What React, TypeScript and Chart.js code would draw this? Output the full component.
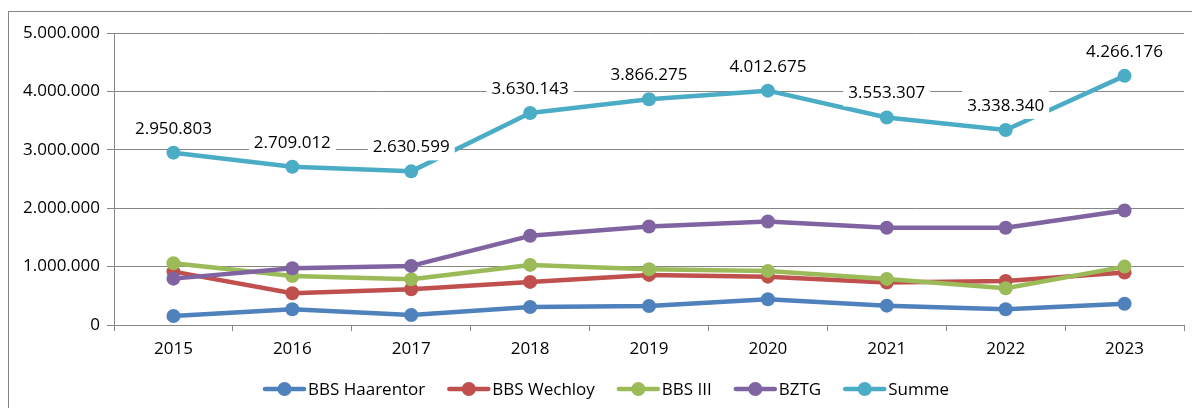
import React, { useEffect, useRef } from "react";
import { Chart, registerables } from "chart.js";

Chart.register(...registerables);

const years = ["2015", "2016", "2017", "2018", "2019", "2020", "2021", "2022", "2023"];
const haarentor = [154000, 269000, 172000, 309000, 326000, 440000, 331000, 269000, 365000];
const wechloy = [914000, 544000, 612000, 738000, 858000, 828000, 726000, 755000, 897000];
const bbsIII = [1058000, 840000, 784000, 1029000, 955000, 926000, 789000, 630000, 1000000];
const bztg = [794000, 972000, 1012000, 1527000, 1686000, 1772000, 1664000, 1664000, 1960000];
const summe = [2950803, 2709012, 2630599, 3630143, 3866275, 4012675, 3553307, 3338340, 4266176];

const seriesNames = ["BBS Haarentor", "BBS Wechloy", "BBS III", "BZTG", "Summe"];
const seriesColors = ["#4F81BD", "#C0504D", "#9BBB59", "#8064A2", "#4BACC6"];
const seriesValues = [haarentor, wechloy, bbsIII, bztg, summe];

const yMin = 0;
const yMax = 5000000;
const yStep = 1000000;

const FONT = "'Open Sans', sans-serif";
const FONT_SIZE = 17;
const GRID = "#868686";

const fmt = (v: number) => String(Math.round(v)).replace(/\B(?=(\d{3})+(?!\d))/g, ".");

const framePlugin = {
  id: "frame",
  beforeDraw(chart: any) {
    const ctx = chart.ctx;
    ctx.save();
    ctx.fillStyle = "#ffffff";
    ctx.fillRect(0, 0, chart.width, chart.height);
    ctx.strokeStyle = GRID;
    ctx.lineWidth = 1;
    ctx.strokeRect(8.5, 11.5, 1400, 600);
    ctx.restore();
  },
};

const sumLabelPlugin = {
  id: "sumLabels",
  afterDatasetsDraw(chart: any) {
    const idx = seriesNames.length - 1;
    const meta = chart.getDatasetMeta(idx);
    const ctx = chart.ctx;
    ctx.save();
    ctx.font = `${FONT_SIZE}px ${FONT}`;
    ctx.textAlign = "center";
    ctx.textBaseline = "middle";
    meta.data.forEach((pt: any, i: number) => {
      const text = fmt(summe[i]);
      const w = ctx.measureText(text).width;
      const x = pt.x;
      const y = pt.y - 25;
      ctx.fillStyle = "#ffffff";
      ctx.fillRect(x - w / 2 - 5, y - 14, w + 10, 28);
      ctx.fillStyle = "#000000";
      ctx.fillText(text, x, y + 1);
    });
    ctx.restore();
  },
};

const legendPlugin = {
  id: "customLegend",
  afterDraw(chart: any) {
    const ctx = chart.ctx;
    ctx.save();
    ctx.font = `${FONT_SIZE}px ${FONT}`;
    ctx.textBaseline = "middle";
    ctx.textAlign = "left";
    const markerW = 43;
    const gapText = 2;
    const gapItem = 22;
    const widths = seriesNames.map((n) => ctx.measureText(n).width);
    const total =
      widths.reduce((a, w) => a + markerW + gapText + w, 0) + gapItem * (seriesNames.length - 1);
    let x = 606 - total / 2;
    const cy = 389;
    seriesNames.forEach((name, i) => {
      ctx.strokeStyle = seriesColors[i];
      ctx.fillStyle = seriesColors[i];
      ctx.lineWidth = 4.5;
      ctx.lineCap = "round";
      ctx.beginPath();
      ctx.moveTo(x + 2, cy);
      ctx.lineTo(x + markerW - 2, cy);
      ctx.stroke();
      ctx.beginPath();
      ctx.arc(x + markerW / 2, cy, 7, 0, Math.PI * 2);
      ctx.fill();
      ctx.fillStyle = "#000000";
      ctx.fillText(name, x + markerW + gapText, cy + 1);
      x += markerW + gapText + widths[i] + gapItem;
    });
    ctx.restore();
  },
};

export default function App() {
  const ref = useRef<HTMLCanvasElement | null>(null);

  useEffect(() => {
    if (!ref.current) return;
    const chart = new Chart(ref.current, {
      type: "line",
      data: {
        labels: years,
        datasets: seriesNames.map((name, i) => ({
          label: name,
          data: seriesValues[i],
          borderColor: seriesColors[i],
          backgroundColor: seriesColors[i],
          pointBackgroundColor: seriesColors[i],
          pointBorderColor: seriesColors[i],
          pointBorderWidth: 0,
          pointRadius: 7,
          borderWidth: 4.5,
          borderJoinStyle: "round" as const,
          borderCapStyle: "round" as const,
          tension: 0,
          fill: false,
          order: seriesNames.length - i,
        })),
      },
      options: {
        responsive: false,
        animation: false,
        devicePixelRatio: 1,
        layout: { padding: { top: 33, right: 8, left: 0, bottom: 0 } },
        plugins: {
          legend: { display: false },
          tooltip: { enabled: false },
        },
        scales: {
          x: {
            offset: true,
            grid: {
              offset: true,
              drawOnChartArea: false,
              color: GRID,
              tickLength: 6,
              lineWidth: 1,
            },
            border: { color: GRID, width: 1 },
            ticks: {
              color: "#000000",
              font: { family: FONT, size: FONT_SIZE },
              padding: 8,
              maxRotation: 0,
            },
            afterFit(scale: any) {
              scale.height = 83;
            },
          },
          y: {
            min: yMin,
            max: yMax,
            grid: { color: GRID, tickLength: 7, lineWidth: 1 },
            border: { color: GRID, width: 1 },
            ticks: {
              stepSize: yStep,
              color: "#000000",
              font: { family: FONT, size: FONT_SIZE },
              padding: 7,
              callback: (v: any) => fmt(Number(v)),
            },
            afterFit(scale: any) {
              scale.width = 114;
            },
          },
        },
      },
      plugins: [framePlugin, sumLabelPlugin, legendPlugin],
    });
    return () => chart.destroy();
  }, []);

  return (
    <div style={{ position: "absolute", left: 0, top: 0, width: 1192, height: 408 }}>
      <canvas ref={ref} width={1192} height={408} style={{ display: "block", width: 1192, height: 408 }} />
    </div>
  );
}
